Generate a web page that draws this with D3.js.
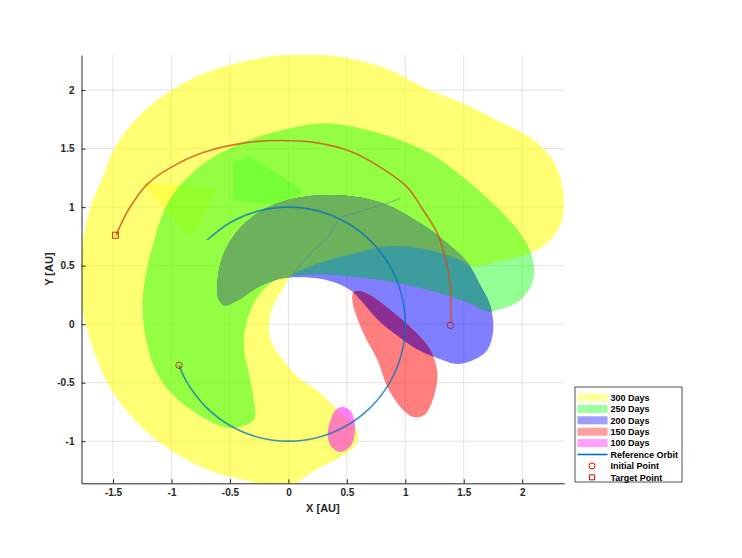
<!DOCTYPE html>
<html>
<head>
<meta charset="utf-8">
<script src="https://cdn.jsdelivr.net/npm/d3@7"></script>
<style>
  body { margin: 0; background: #fff; }
  svg { display: block; font-family: "Liberation Sans", Arial, sans-serif; }
</style>
</head>
<body>
<div id="chart"></div>
<script>
// ---- data (AU) ----
const xTicks = [-1.5, -1, -0.5, 0, 0.5, 1, 1.5, 2];
const yTicks = [-1, -0.5, 0, 0.5, 1, 1.5, 2];
const seriesNames = ['300 Days', '250 Days', '200 Days', '150 Days', '100 Days'];

// reachable set outlines
const reach300 = [[0.591,-0.922],[0.591,-1.007],[0.532,-1.075],[0.446,-1.135],[0.216,-1.254],[-0.006,-1.382],[-0.296,-1.348],[-0.723,-1.229],[-1.149,-0.973],[-1.491,-0.597],[-1.687,-0.162],[-1.781,0.265],[-1.763,0.674],[-1.687,1.015],[-1.576,1.288],[-1.474,1.527],[-1.200,1.852],[-0.723,2.142],[-0.151,2.287],[0.276,2.304],[0.788,2.201],[1.214,1.997],[1.496,1.886],[1.786,1.741],[2.067,1.596],[2.263,1.399],[2.349,1.143],[2.332,0.862],[2.212,0.691],[2.067,0.606],[1.811,0.538],[1.572,0.495],[1.470,0.546],[1.214,0.631],[0.873,0.666],[0.532,0.597],[0.190,0.495],[0.020,0.410],[-0.040,0.316],[-0.134,0.145],[-0.168,-0.051],[-0.134,-0.179],[-0.091,-0.247],[0.079,-0.452],[0.275,-0.589],[0.430,-0.745],[0.549,-0.850]];
const reach300Tri = [[-1.260,1.212],[-0.603,1.160],[-0.834,0.734]];
const reach300Wedge = [[-0.475,0.785],[-0.219,0.922],[0.148,1.143],[0.020,1.015],[-0.322,0.802]];

const reach250 = [[-0.296,-0.819],[-0.492,-0.887],[-0.723,-0.802],[-1.004,-0.589],[-1.149,-0.367],[-1.235,-0.026],[-1.243,0.265],[-1.149,0.717],[-1.004,1.084],[-0.723,1.374],[-0.347,1.570],[0.131,1.698],[0.361,1.715],[0.788,1.630],[1.214,1.459],[1.496,1.254],[1.786,0.998],[1.982,0.776],[2.085,0.572],[2.093,0.375],[1.982,0.205],[1.786,0.119],[1.700,0.111],[1.555,0.179],[1.300,0.265],[0.958,0.350],[0.617,0.401],[0.276,0.427],[0.020,0.410],[-0.108,0.375],[-0.219,0.290],[-0.305,0.162],[-0.364,-0.009],[-0.381,-0.196],[-0.339,-0.418],[-0.296,-0.648]];
const reach250Quad = [[-0.474,1.382],[-0.322,1.433],[0.131,1.143],[-0.049,1.015],[-0.474,1.058]];

const reach200 = [[-0.603,0.401],[-0.552,0.606],[-0.407,0.828],[-0.177,0.998],[0.105,1.084],[0.446,1.101],[0.813,1.032],[1.129,0.862],[1.359,0.691],[1.530,0.529],[1.641,0.333],[1.726,0.162],[1.752,-0.051],[1.700,-0.222],[1.581,-0.307],[1.444,-0.341],[1.274,-0.290],[1.086,-0.205],[0.915,-0.085],[0.770,0.034],[0.634,0.188],[0.532,0.290],[0.335,0.375],[0.079,0.401],[-0.091,0.384],[-0.262,0.316],[-0.433,0.205],[-0.552,0.162],[-0.603,0.230]];
const reach200Edge = [[0.020,0.401],[0.190,0.606],[0.335,0.742],[0.386,0.819],[0.446,0.904],[0.617,0.964],[0.813,1.024],[0.958,1.075]];

const reach150 = [[0.557,0.273],[0.549,0.188],[0.642,-0.077],[0.762,-0.307],[0.847,-0.538],[0.958,-0.708],[1.069,-0.794],[1.163,-0.776],[1.240,-0.631],[1.274,-0.418],[1.214,-0.222],[1.069,-0.051],[0.873,0.119],[0.728,0.230],[0.617,0.282]];
const reach100 = [[0.463,-0.708],[0.532,-0.742],[0.566,-0.836],[0.566,-0.947],[0.532,-1.041],[0.446,-1.092],[0.370,-1.049],[0.336,-0.947],[0.361,-0.819],[0.403,-0.734]];

// reference orbit (1 AU) and transfer
const refOrbit = [[-0.936,-0.352],[-0.866,-0.5],[-0.707,-0.707],[-0.5,-0.866],[-0.259,-0.966],[0,-1],[0.259,-0.966],[0.5,-0.866],[0.707,-0.707],[0.866,-0.5],[0.966,-0.259],[1,0],[0.966,0.259],[0.866,0.5],[0.707,0.707],[0.5,0.866],[0.259,0.966],[0,1],[-0.259,0.966],[-0.5,0.866],[-0.695,0.719]];
const transfer = [[1.391,0.01],[1.387,0.205],[1.385,0.316],[1.360,0.486],[1.274,0.776],[1.154,0.973],[1.018,1.169],[0.788,1.340],[0.506,1.485],[0.216,1.553],[-0.066,1.570],[-0.347,1.553],[-0.723,1.468],[-1.004,1.340],[-1.200,1.203],[-1.371,0.973],[-1.474,0.759]];
const initialPoints = [[-0.936,-0.352],[1.386,-0.01]];
const targetPoints = [[-1.48,0.76]];

// ---- layout ----
const width = 742, height = 558;
const margin = { left: 81.5, right: 742 - 564.3, top: 55, bottom: 558 - 483.3 };

const svg = d3.select('#chart').append('svg')
    .attr('width', width)
    .attr('height', height);

const x = d3.scaleLinear().domain([-1.77, 2.36]).range([margin.left, width - margin.right]);
const y = d3.scaleLinear().domain([-1.36, 2.30]).range([height - margin.bottom, margin.top]);

const colors = { '300 Days': '#ffff00', '250 Days': '#00ff00', '200 Days': '#0000ff', '150 Days': '#ff0000', '100 Days': '#ff00ff' };
const alphas = { '300 Days': 0.55, '250 Days': 0.42, '200 Days': 0.5, '150 Days': 0.5, '100 Days': 0.5 };

const area = d3.line().x(d => x(d[0])).y(d => y(d[1])).curve(d3.curveCatmullRomClosed.alpha(0.5));
const poly = d3.line().x(d => x(d[0])).y(d => y(d[1])).curve(d3.curveLinearClosed);
const path = d3.line().x(d => x(d[0])).y(d => y(d[1])).curve(d3.curveCatmullRom.alpha(0.5));

const defs = svg.append('defs');
defs.append('clipPath').attr('id', 'plot-clip')
    .append('rect')
    .attr('x', x(-1.77)).attr('y', y(2.30))
    .attr('width', x(2.36) - x(-1.77)).attr('height', y(-1.36) - y(2.30));

// clip shapes for the overlap shading
[['clip300', reach300], ['clip250', reach250], ['clip200', reach200]].forEach(([id, pts]) => {
    defs.append('clipPath').attr('id', id).append('path').attr('d', area(pts));
});

// grid
const grid = svg.append('g');
grid.selectAll('.gx').data(xTicks).join('line')
    .attr('x1', d => x(d)).attr('x2', d => x(d))
    .attr('y1', y(2.30)).attr('y2', y(-1.36))
    .attr('stroke', '#dadada').attr('stroke-width', 0.8);
grid.selectAll('.gy').data(yTicks).join('line')
    .attr('y1', d => y(d)).attr('y2', d => y(d))
    .attr('x1', x(-1.77)).attr('x2', x(2.36))
    .attr('stroke', '#dadada').attr('stroke-width', 0.8);

const plot = svg.append('g').attr('clip-path', 'url(#plot-clip)');

const patch = (pts, fill, op, gen = area, clip = null) => {
    const p = plot.append('g');
    if (clip) p.attr('clip-path', `url(#${clip})`);
    return p.append('path')
        .attr('d', gen(pts))
        .attr('fill', fill)
        .attr('fill-opacity', op);
};

// 300 days
patch(reach300, colors['300 Days'], alphas['300 Days']);
patch(reach300Tri, colors['300 Days'], 0.35, poly);
patch(reach300Wedge, colors['300 Days'], 0.3, poly);
// 250 days
patch(reach250, colors['250 Days'], alphas['250 Days']);
patch(reach250Quad, colors['250 Days'], 0.2, poly);
// 200 days, with the shades it takes over the 250 / 300 day sets
patch(reach200, colors['200 Days'], alphas['200 Days']);
patch(reach200, '#3d9c9c', 1, area, 'clip250');
patch(reach200, '#6cb25c', 1, area, 'clip300');
plot.append('path')
    .attr('d', path(reach200Edge))
    .attr('fill', 'none')
    .attr('stroke', '#4a7fa8')
    .attr('stroke-opacity', 0.7)
    .attr('stroke-width', 0.8);
// 150 / 100 days
patch(reach150, colors['150 Days'], alphas['150 Days']);
patch(reach150, '#8c2f94', 1, area, 'clip200');
patch(reach100, colors['100 Days'], alphas['100 Days']);

// trajectories
plot.append('path')
    .attr('d', path(refOrbit))
    .attr('fill', 'none')
    .attr('stroke', '#0072bd')
    .attr('stroke-opacity', 0.75)
    .attr('stroke-width', 1.6);

plot.append('path')
    .attr('d', path(transfer))
    .attr('fill', 'none')
    .attr('stroke', '#d2501a')
    .attr('stroke-opacity', 0.8)
    .attr('stroke-width', 1.6);

plot.selectAll('.init').data(initialPoints).join('circle')
    .attr('cx', d => x(d[0])).attr('cy', d => y(d[1]))
    .attr('r', 3.2)
    .attr('fill', 'none')
    .attr('stroke', '#d00000')
    .attr('stroke-opacity', 0.75);

plot.selectAll('.target').data(targetPoints).join('rect')
    .attr('x', d => x(d[0]) - 3).attr('y', d => y(d[1]) - 3)
    .attr('width', 6).attr('height', 6)
    .attr('fill', 'none')
    .attr('stroke', '#d00000')
    .attr('stroke-opacity', 0.8);

// axes
const xAxis = svg.append('g')
    .attr('transform', `translate(0,${y(-1.36)})`)
    .call(d3.axisBottom(x).tickValues(xTicks).tickFormat(d => String(d)).tickSizeInner(-4).tickSizeOuter(0).tickPadding(6));
const yAxis = svg.append('g')
    .attr('transform', `translate(${x(-1.77)},0)`)
    .call(d3.axisLeft(y).tickValues(yTicks).tickFormat(d => String(d)).tickSizeInner(-4).tickSizeOuter(0).tickPadding(7));

[xAxis, yAxis].forEach(g => {
    g.select('.domain').attr('stroke', '#262626').attr('stroke-width', 1);
    g.selectAll('.tick line').attr('stroke', '#262626');
    g.selectAll('.tick text')
        .attr('fill', '#262626')
        .style('font-size', '10px')
        .style('font-weight', 'bold');
});

svg.append('text')
    .attr('x', (x(-1.77) + x(2.36)) / 2)
    .attr('y', 512)
    .attr('text-anchor', 'middle')
    .attr('fill', '#262626')
    .style('font-size', '11px')
    .style('font-weight', 'bold')
    .text('X [AU]');

svg.append('text')
    .attr('transform', `translate(53,${(y(2.30) + y(-1.36)) / 2}) rotate(-90)`)
    .attr('text-anchor', 'middle')
    .attr('fill', '#262626')
    .style('font-size', '11px')
    .style('font-weight', 'bold')
    .text('Y [AU]');

// legend
const legend = svg.append('g').attr('transform', 'translate(575,387)');
legend.append('rect')
    .attr('width', 107).attr('height', 95)
    .attr('fill', '#fff')
    .attr('stroke', '#262626')
    .attr('stroke-width', 0.8);

const rowY = i => 10.5 + i * 11.4;
const legendItems = [...seriesNames, 'Reference Orbit', 'Initial Point', 'Target Point'];

legendItems.forEach((name, i) => {
    const cy = rowY(i);
    if (colors[name]) {
        legend.append('rect')
            .attr('x', 2.5).attr('y', cy - 4)
            .attr('width', 30).attr('height', 8)
            .attr('fill', colors[name])
            .attr('fill-opacity', 0.38);
    } else if (name === 'Reference Orbit') {
        legend.append('line')
            .attr('x1', 2.5).attr('x2', 32.5)
            .attr('y1', cy).attr('y2', cy)
            .attr('stroke', '#0072bd')
            .attr('stroke-width', 1.6);
    } else if (name === 'Initial Point') {
        legend.append('circle')
            .attr('cx', 17).attr('cy', cy).attr('r', 3)
            .attr('fill', 'none').attr('stroke', '#ff0000');
    } else {
        legend.append('rect')
            .attr('x', 14.5).attr('y', cy - 2.5)
            .attr('width', 5).attr('height', 5)
            .attr('fill', 'none').attr('stroke', '#ff0000');
    }
    legend.append('text')
        .attr('x', 35.5).attr('y', cy + 3.2)
        .attr('fill', '#000')
        .style('font-size', '9px')
        .style('font-weight', 'bold')
        .text(name);
});
</script>
</body>
</html>
